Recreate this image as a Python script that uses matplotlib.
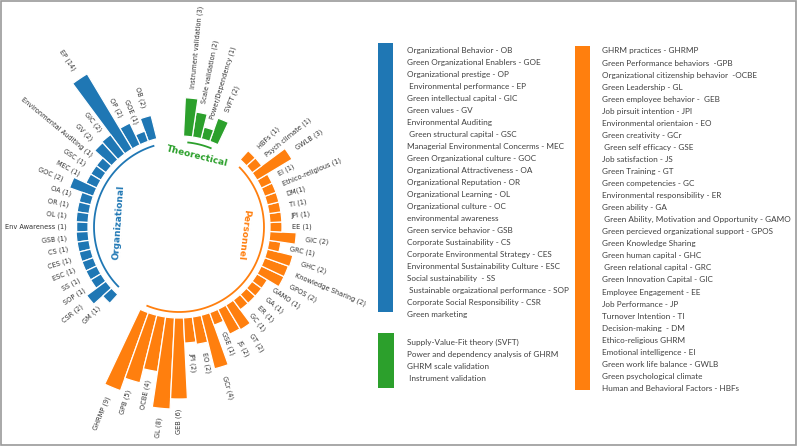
import numpy as np
import matplotlib
matplotlib.use("Agg")
import matplotlib.pyplot as plt
from matplotlib.patches import Rectangle

# ---------------- data ----------------
GROUP_NAMES = ["Organizational", "Personnel", "Theorectical"]
GROUP_COLORS = ["#1f77b4", "#ff7f0e", "#2ca02c"]

org_labels = ["OB (2)", "GOE (1)", "OP (2)", "EP (14)", "GIC (2)", "GV (2)",
              "Environmental Auditing (1)", "GSC (1)", "MEC (1)", "GOC (2)",
              "OA (1)", "OR (1)", "OL (1)", "Env Awareness (1)", "GSB (1)",
              "CS (1)", "CES (1)", "ESC (1)", "SS (1)", "SOP (1)", "CSR (2)", "GM (1)"]
org_values = [2.0, 0.9, 2.0, 7.3, 2.0, 1.9, 1.0, 1.0, 1.0, 2.1, 1.0, 1.0, 1.0,
              0.95, 1.0, 1.0, 1.0, 1.0, 1.0, 1.0, 2.0, 1.0]

pers_labels = ["GHRMP (9)", "GPB (5)", "OCBE (4)", "GL (8)", "GEB (6)", "JPI (2)",
               "EO (2)", "GCr (4)", "GSE (1)", "JS (2)", "GT (2)", "GC (1)", "ER (1)",
               "GA (1)", "GAMO (1)", "GPOS (2)", "Knowledge Sharing (2)", "GHC (2)",
               "GRC (1)", "GIC (2)", "EE (1)", "JPI (1)", "TI (1)", "DM(1)",
               "Ethico-religious (1)", "EI (1)", "GWLB (3)", "Psych climate (1)", "HBFs (1)"]
pers_values = [6.9, 5.8, 4.6, 7.6, 6.75, 2.1, 2.3, 4.6, 1.1, 2.3, 2.4, 1.0, 1.0,
               1.0, 1.0, 2.1, 2.1, 2.2, 1.0, 2.2, 1.0, 1.0, 1.0, 1.0, 1.0, 1.0,
               3.4, 1.0, 1.0]

theo_labels = ["SVFT (2)", "Power/Dependency (1)", "Scale validation (2)",
               "Instrument validation (3)"]
theo_values = [2.05, 1.0, 2.1, 3.2]

legend_org = ["Organizational Behavior - OB", "Green Organizational Enablers - GOE",
              "Organizational prestige - OP", " Environmental performance - EP",
              "Green intellectual capital - GIC", "Green values - GV",
              "Environmental Auditing", " Green structural capital - GSC",
              "Managerial Environmental Concerms - MEC", "Green Organizational culture - GOC",
              "Organizational Attractiveness - OA", "Organizational Reputation - OR",
              "Organizational Learning - OL", "Organizational culture - OC",
              "environmental awareness", "Green service behavior - GSB",
              "Corporate Sustainability - CS", "Corporate Environmental Strategy - CES",
              "Environmental Sustainability Culture - ESC", "Social sustainability  - SS",
              " Sustainable orgaizational performance - SOP",
              "Corporate Social Responsibility - CSR", "Green marketing"]
legend_theo = ["Supply-Value-Fit theory (SVFT)", "Power and dependency analysis of GHRM",
               "GHRM scale validation", " Instrument validation"]
legend_pers = ["GHRM practices - GHRMP", "Green Performance behaviors  -GPB",
               "Organizational citizenship behavior  -OCBE", "Green Leadership - GL",
               "Green employee behavior -  GEB", "Job pirsuit intention - JPI",
               "Environmental orientaion - EO", "Green creativity - GCr",
               " Green self efficacy - GSE", "Job satisfaction - JS", "Green Training - GT",
               "Green competencies - GC", "Environmental responsibility - ER",
               "Green ability - GA", " Green Ability, Motivation and Opportunity - GAMO",
               "Green percieved organizational support - GPOS", "Green Knowledge Sharing",
               "Green human capital - GHC", " Green relational capital - GRC",
               "Green Innovation Capital - GIC", "Employee Engagement - EE",
               "Job Performance - JP", "Turnover Intention - TI", "Decision-making  - DM",
               "Ethico-religious GHRM", "Emotional intelligence - EI",
               "Green work life balance - GWLB", "Green psychological climate",
               "Human and Behavioral Factors - HBFs"]

# ---------------- figure ----------------
W, H = 800, 448
fig = plt.figure(figsize=(W / 100, H / 100), dpi=100)
fig.patch.set_facecolor("white")

CX, CY = 179, 227       # centre of the circle in px
RPX = 200               # axes radius in px
PXU = 12.0              # px per value unit
R_IN = 91.0             # inner radius in px
ax = fig.add_axes([(CX - RPX) / W, 1 - (CY + RPX) / H, 2 * RPX / W, 2 * RPX / H],
                  projection="polar")
OFFSET = np.pi / 2
ax.set_theta_offset(OFFSET)
ax.set_ylim(-R_IN / PXU, (RPX - R_IN) / PXU)
ax.set_frame_on(False)
ax.grid(False)
ax.set_xticks([])
ax.set_yticks([])
ax.patch.set_alpha(0)

groups_values = [org_values, pers_values, theo_values]
groups_labels = [org_labels, pers_labels, theo_labels]
PAD = 3
sizes = [len(v) for v in groups_values]
N = sum(sizes) + PAD * len(sizes)
ANGLES = np.linspace(0, 2 * np.pi, N, endpoint=False)
WIDTH = 2 * np.pi / N

idxs = []
off = 0
for s in sizes:
    idxs += list(range(off + PAD, off + s + PAD))
    off += s + PAD
VALUES = [v for g in groups_values for v in g]
LABELS = [l for g in groups_labels for l in g]
COLORS = [GROUP_COLORS[i] for i, s in enumerate(sizes) for _ in range(s)]

ax.bar(ANGLES[idxs], VALUES, width=WIDTH, color=COLORS, edgecolor="white", linewidth=0.9)

LABEL_PAD = 0.8
for ang, val, lab in zip(ANGLES[idxs], VALUES, LABELS):
    rot = np.rad2deg(ang + OFFSET)
    if ang <= np.pi:
        ha = "right"
        rot += 180
    else:
        ha = "left"
    ax.text(ang, val + LABEL_PAD, lab, ha=ha, va="center", rotation=rot,
            rotation_mode="anchor", fontsize=4.8, color="#333333")

# group arcs and names (name positions: angle in degrees from top, radius in px)
name_pos = [(86.0, 61.0), (263.0, 65.0), (346.0, 73.0)]
off = 0
for gi, s in enumerate(sizes):
    x1 = np.linspace(ANGLES[off + PAD], ANGLES[off + s + PAD - 1], 60)
    ax.plot(x1, [-0.5] * 60, color=GROUP_COLORS[gi], lw=1.3, solid_capstyle="butt")
    a_deg, r_px = name_pos[gi]
    rot = a_deg
    if a_deg > 180:
        rot = a_deg - 360
    ax.text(np.deg2rad(a_deg), (r_px - R_IN) / PXU, GROUP_NAMES[gi], ha="center",
            va="center", rotation=rot, rotation_mode="anchor", fontsize=6.5,
            fontweight="bold", color=GROUP_COLORS[gi])
    off += s + PAD

# ---------------- legend panel ----------------
lax = fig.add_axes([0, 0, 1, 1])
lax.set_xlim(0, W)
lax.set_ylim(H, 0)
lax.axis("off")
lax.patch.set_alpha(0)

lax.add_patch(Rectangle((1, 1), W - 5, H - 3.5, fill=False, ec="#9a9a9a", lw=1.2))

lax.add_patch(Rectangle((378, 43), 15, 269, color=GROUP_COLORS[0], lw=0))
lax.add_patch(Rectangle((378, 333), 16, 55, color=GROUP_COLORS[2], lw=0))
lax.add_patch(Rectangle((575, 46), 15, 344, color=GROUP_COLORS[1], lw=0))

LFONT = dict(fontsize=5.9, color="#404040", ha="left", va="center", family="Lato")
STEP = 12.0
for i, t in enumerate(legend_org):
    lax.text(407, 50.7 + i * STEP, t, **LFONT)
for i, t in enumerate(legend_theo):
    lax.text(407, 342.3 + i * STEP, t, **LFONT)
for i, t in enumerate(legend_pers):
    lax.text(602, 51 + i * 12.05, t, **LFONT)

fig.savefig("out.png", dpi=100, facecolor="white")
